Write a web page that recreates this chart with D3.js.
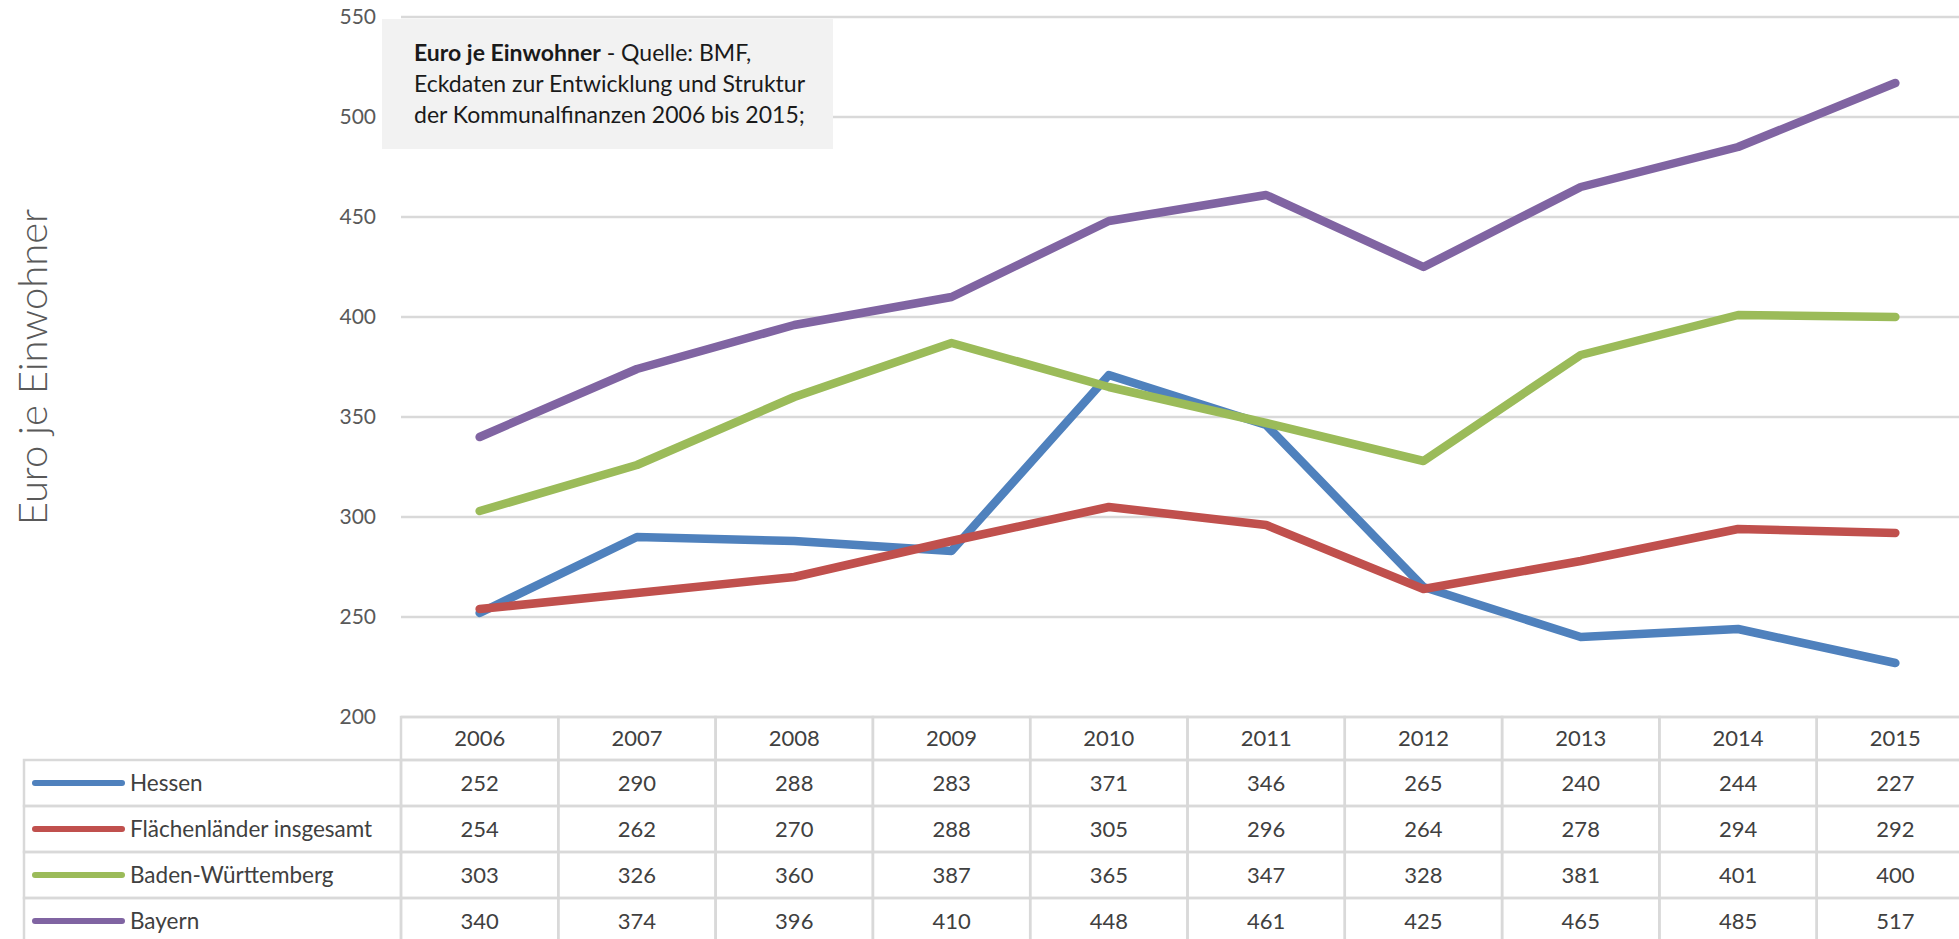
<!DOCTYPE html>
<html lang="de">
<head>
    <meta charset="UTF-8">
    <script src="https://cdnjs.cloudflare.com/ajax/libs/d3/7.8.5/d3.min.js"></script>
    <title>Euro je Einwohner</title>
    <style>
        body { margin: 0; background: #fff; }
        svg { display: block; font-family: Lato, "Open Sans", sans-serif; }
    </style>
</head>
<body>
<script>
var width = 1959,
    height = 939;

// data
var years = ["2006", "2007", "2008", "2009", "2010", "2011", "2012", "2013", "2014", "2015"];
var seriesNames = ["Hessen", "Flächenländer insgesamt", "Baden-Württemberg", "Bayern"];
var hessen = [252, 290, 288, 283, 371, 346, 265, 240, 244, 227];
var flaechen = [254, 262, 270, 288, 305, 296, 264, 278, 294, 292];
var badenWue = [303, 326, 360, 387, 365, 347, 328, 381, 401, 400];
var bayern = [340, 374, 396, 410, 448, 461, 425, 465, 485, 517];
var yTicks = [200, 250, 300, 350, 400, 450, 500, 550];
var colors = ["#4f81bd", "#c0504d", "#9bbb59", "#8064a2"];

var series = [hessen, flaechen, badenWue, bayern].map(function(values, i){
    return {name: seriesNames[i], color: colors[i], values: values};
});

var plotLeft = 401,
    colWidth = 157.3,
    gridColor = "#d9d9d9";

var svg = d3.select("body").append("svg")
                .attr("width", width).attr("height", height);

var x = d3.scaleBand()
            .domain(years)
            .range([plotLeft, plotLeft + colWidth * years.length])
            .paddingInner(0).paddingOuter(0);

var y = d3.scaleLinear()
            .domain([200, 550])
            .range([717, 17]);

// gridlines
svg.append("g").selectAll("line").data(yTicks)
    .enter()
    .append("line")
    .attr("x1", plotLeft)
    .attr("x2", width)
    .attr("y1", function(d){ return y(d); })
    .attr("y2", function(d){ return y(d); })
    .attr("stroke", gridColor)
    .attr("stroke-width", 2.5);

// y axis labels
var yAxis = d3.axisLeft(y).tickValues(yTicks).tickSize(0).tickPadding(0);
var yAxisG = svg.append("g")
                .attr("transform", "translate(376,0)")
                .call(yAxis);
yAxisG.select(".domain").remove();
yAxisG.selectAll("text")
    .attr("font-family", "Lato, sans-serif")
    .attr("font-size", "21px")
    .attr("fill", "#595959");

// y title
svg.append("text")
    .attr("transform", "translate(47,367) rotate(-90)")
    .attr("text-anchor", "middle")
    .attr("font-size", "40px")
    .attr("font-weight", 300)
    .attr("fill", "#595959")
    .text("Euro je Einwohner");

// source box
svg.append("rect")
    .attr("x", 382).attr("y", 19)
    .attr("width", 451).attr("height", 130)
    .attr("fill", "#f2f2f2");

var note = svg.append("text")
                .attr("font-size", "23px")
                .attr("fill", "#1a1a1a");
var l1 = note.append("tspan").attr("x", 414).attr("y", 61);
l1.append("tspan").attr("font-weight", 700).text("Euro je Einwohner");
l1.append("tspan").text(" - Quelle: BMF,");
note.append("tspan").attr("x", 414).attr("y", 92).text("Eckdaten zur Entwicklung und Struktur");
note.append("tspan").attr("x", 414).attr("y", 123).text("der Kommunalfinanzen 2006 bis 2015;");

// lines
var line = d3.line()
            .x(function(d, i){ return x(years[i]) + x.bandwidth() / 2; })
            .y(function(d){ return y(d); });

svg.append("g").selectAll("path").data(series)
    .enter()
    .append("path")
    .attr("d", function(d){ return line(d.values); })
    .attr("fill", "none")
    .attr("stroke", function(d){ return d.color; })
    .attr("stroke-width", 8.5)
    .attr("stroke-linejoin", "round")
    .attr("stroke-linecap", "round");

// data table
var headTop = 717,
    headH = 43,
    rowH = 46,
    labelLeft = 24;

var table = svg.append("g");

// header cells
table.selectAll("rect.head").data(years)
    .enter()
    .append("rect")
    .attr("class", "head")
    .attr("x", function(d){ return x(d); })
    .attr("y", headTop)
    .attr("width", x.bandwidth())
    .attr("height", headH)
    .attr("fill", "none")
    .attr("stroke", gridColor)
    .attr("stroke-width", 2.5);

table.selectAll("text.head").data(years)
    .enter()
    .append("text")
    .attr("class", "head")
    .attr("x", function(d){ return x(d) + x.bandwidth() / 2; })
    .attr("y", headTop + headH / 2)
    .attr("dy", "0.35em")
    .attr("text-anchor", "middle")
    .attr("font-size", "22px")
    .attr("fill", "#404040")
    .text(function(d){ return d; });

var rows = table.selectAll("g.row").data(series)
                .enter()
                .append("g")
                .attr("class", "row")
                .attr("transform", function(d, i){
                    return "translate(0," + (headTop + headH + i * rowH) + ")";
                });

rows.append("rect")
    .attr("x", labelLeft)
    .attr("y", 0)
    .attr("width", plotLeft - labelLeft)
    .attr("height", rowH)
    .attr("fill", "none")
    .attr("stroke", gridColor)
    .attr("stroke-width", 2.5);

rows.append("line")
    .attr("x1", 35).attr("x2", 122)
    .attr("y1", rowH / 2).attr("y2", rowH / 2)
    .attr("stroke", function(d){ return d.color; })
    .attr("stroke-width", 6)
    .attr("stroke-linecap", "round");

rows.append("text")
    .attr("x", 130)
    .attr("y", rowH / 2)
    .attr("dy", "0.35em")
    .attr("font-size", "22.5px")
    .attr("fill", "#404040")
    .text(function(d){ return d.name; });

rows.selectAll("rect.cell").data(function(d){ return d.values; })
    .enter()
    .append("rect")
    .attr("class", "cell")
    .attr("x", function(d, i){ return x(years[i]); })
    .attr("y", 0)
    .attr("width", x.bandwidth())
    .attr("height", rowH)
    .attr("fill", "none")
    .attr("stroke", gridColor)
    .attr("stroke-width", 2.5);

rows.selectAll("text.cell").data(function(d){ return d.values; })
    .enter()
    .append("text")
    .attr("class", "cell")
    .attr("x", function(d, i){ return x(years[i]) + x.bandwidth() / 2; })
    .attr("y", rowH / 2)
    .attr("dy", "0.35em")
    .attr("text-anchor", "middle")
    .attr("font-size", "22px")
    .attr("fill", "#404040")
    .text(function(d){ return d; });
</script>
</body>
</html>
